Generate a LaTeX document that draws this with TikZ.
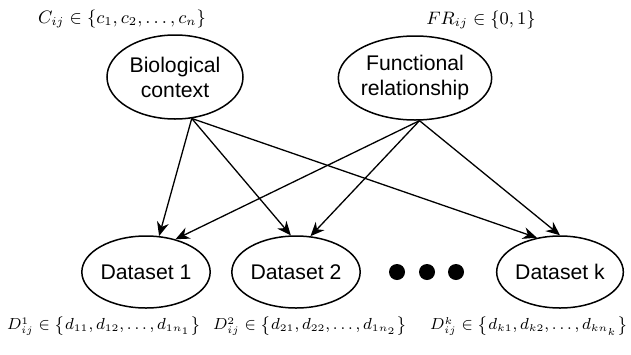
\documentclass[tikz,border=0pt]{standalone}
\usepackage{amsmath}
\usepackage{fontspec}
\setsansfont{Liberation Sans}
\usetikzlibrary{arrows.meta,shapes.geometric}

\tikzset{
    varnode/.style={ellipse, draw, line width=0.75pt, inner sep=0pt, align=center,
        font=\sffamily\fontsize{10.6}{12.5}\selectfont},
    topnode/.style={varnode, minimum width=68pt, minimum height=42pt},
    datanode/.style={varnode, minimum width=59pt, minimum height=36pt},
    rangetop/.style={inner sep=0pt, font=\fontsize{9}{11}\selectfont},
    rangebot/.style={inner sep=0pt, font=\fontsize{7.8}{10}\selectfont},
    dep/.style={->, line width=0.65pt}
}

\begin{document}
\begin{tikzpicture}[x=0.5pt, y=-0.5pt, >={Stealth[length=7pt,width=6pt]}]
    \useasboundingbox (0,0) rectangle (631,354);
    % hidden variables
    \node[topnode] (bio) at (175,77) {Biological\\context};
    \node[topnode] (func) at (415,78) {Functional\\relationship};
    % observed datasets
    \node[datanode] (d1) at (146,272) {Dataset 1};
    \node[datanode] (d2) at (296,272) {Dataset 2};
    \node[datanode] (dk) at (560,272) {Dataset k};
    \foreach \x in {397,427,456}
        \fill (\x,272) circle (4pt);
    % value ranges
    \node[rangetop] (cval) at (122,19) {$C_{ij}\in\left\{c_1,c_2,\ldots,c_n\right\}$};
    \node[rangetop] (frval) at (481,20) {$FR_{ij}\in\left\{0,1\right\}$};
    \node[rangebot] (d1val) at (104,326) {$D^1_{ij}\in\left\{d_{11},d_{12},\ldots,d_{1n_1}\right\}$};
    \node[rangebot] (d2val) at (310,326) {$D^2_{ij}\in\left\{d_{21},d_{22},\ldots,d_{1n_2}\right\}$};
    \node[rangebot] (dkval) at (529,326) {$D^k_{ij}\in\left\{d_{k1},d_{k2},\ldots,d_{kn_k}\right\}$};
    % dependencies
    \draw[dep] (bio.-68) -- (d1.70);
    \draw[dep] (bio.-68) -- (d2.98);
    \draw[dep] (bio.-68) -- (dk.124);
    \draw[dep] (func.-84) -- (d1.48);
    \draw[dep] (func.-84) -- (d2.68);
    \draw[dep] (func.-84) -- (dk.90);
\end{tikzpicture}
\end{document}
